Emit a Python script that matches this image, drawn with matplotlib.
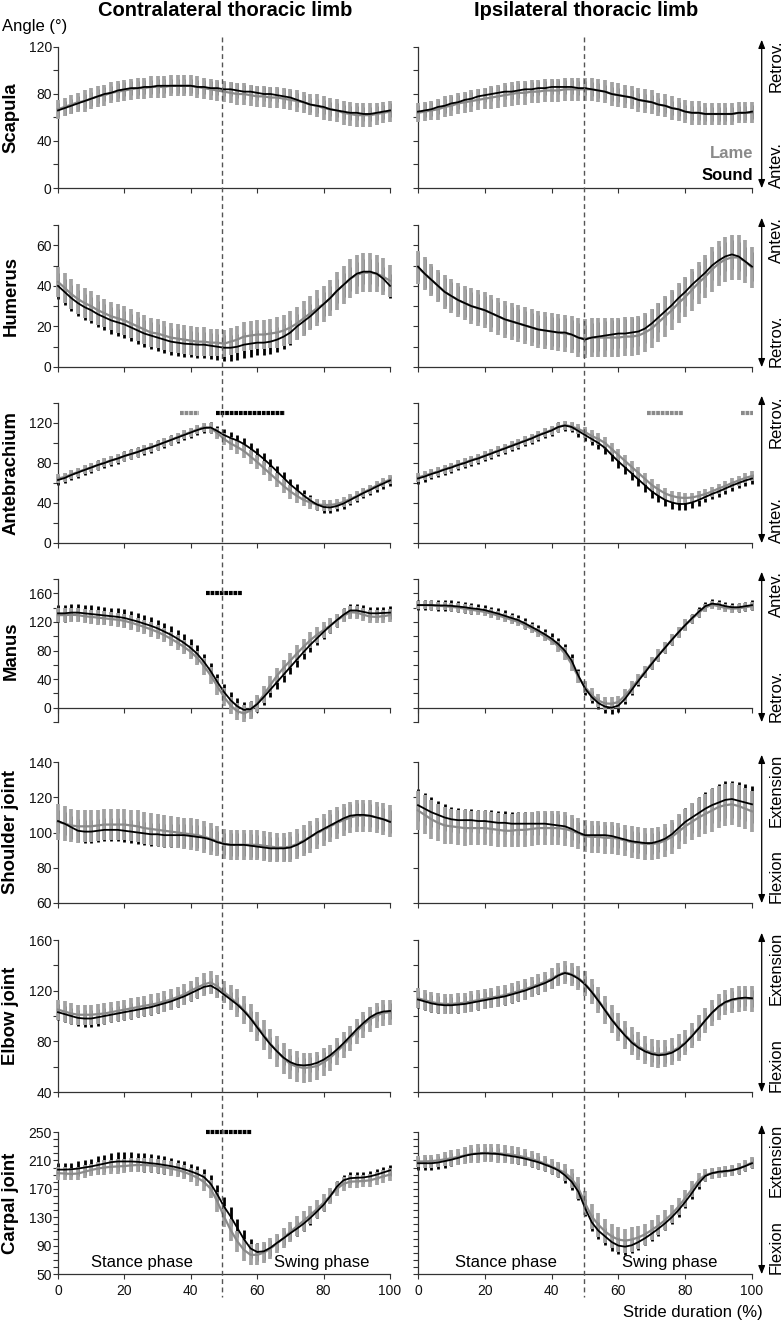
import numpy as np
import matplotlib
matplotlib.use("Agg")
import matplotlib.pyplot as plt
from matplotlib.lines import Line2D
from matplotlib.patches import FancyArrowPatch

plt.rcParams['font.family'] = ['Liberation Sans', 'DejaVu Sans']

# stride duration (%), read every 2 %
stride = list(range(0, 101, 2))

# ---- Scapula ----
sc_L_b = [66,68,70,72,74,76,78,80,81,83,84,85,85,86,86,87,87,87,87,87,87,86,86,85,85,84,84,83,82,82,81,80,80,79,78,77,75,73,71,70,69,67,66,65,64,64,63,63,64,65,66]
sc_L_g = [67,69,71,73,74,76,78,79,81,82,83,84,85,85,86,86,86,87,87,87,87,86,85,84,83,82,81,80,80,79,78,78,77,77,76,75,74,73,71,70,68,67,66,64,63,62,62,62,63,64,65]
sc_L_bsd = [6,6,6,6,6,6,6,6,6,6,6,6,6,6,6,6,6,6,6,6,6,6,6,6,6,6,6,6,6,6,6,6,6,6,6,6,6,6,6,6,6,6,6,6,6,6,6,6,6,6,6]
sc_L_gsd = [8,8,8,8,9,9,9,9,9,9,9,9,9,9,9,9,9,9,9,9,9,9,9,9,9,9,9,9,9,9,9,9,9,9,9,9,9,9,9,10,10,10,10,10,10,10,10,10,9,9,9]
sc_R_b = [65,66,67,69,70,72,73,75,76,78,79,80,81,82,82,83,84,84,85,85,86,86,86,86,85,85,84,83,82,80,79,78,77,75,74,73,71,70,68,67,65,64,64,63,63,63,63,63,64,64,65]
sc_R_g = [64,65,66,67,69,70,72,73,74,75,76,77,78,79,80,81,81,82,82,83,83,83,84,84,84,84,84,83,82,80,79,78,77,75,74,73,71,70,68,67,65,64,64,63,63,63,63,63,64,64,64]
sc_R_bsd = [6,6,6,6,6,6,6,6,6,6,6,6,6,6,6,6,6,6,6,6,6,6,6,6,6,6,6,6,6,6,6,6,6,6,6,6,6,6,6,6,6,6,6,6,6,6,6,6,6,6,6]
sc_R_gsd = [8,8,8,9,9,9,9,9,9,9,9,10,10,10,10,10,10,10,10,10,10,10,10,10,10,10,10,10,10,10,10,10,10,10,10,10,10,10,10,10,10,10,10,9,9,9,9,9,9,9,9]

# ---- Humerus ----
hu_L_b = [40,37,34,31.5,29.5,28,26,24.5,23,22,21,19.5,18,16.5,15.5,14.5,13.5,12.5,12,11.5,11.3,11,11,10.5,10,9.5,9.5,10,11,11.5,12,12,12.5,13.5,15,17,20,22.5,25,28,31,34,37.5,40.5,43.5,46,47,47,46,43.5,40]
hu_L_g = [42,39,36,33.5,31.5,30,28,26.5,25,24,23,21.5,20,18.5,17,16.5,15.5,14.5,14,13.5,13,12.5,12.5,12,12,11.5,12.5,13.5,15,15.5,16,16,16.5,17,18,19.5,21.5,24,26.5,29,31,34,37.5,40.5,43.5,45.5,46.5,46.5,46,44.5,42.5]
hu_L_bsd = [6.5,6.5,6.5,6.5,6.5,6.5,6.5,6.5,6.5,6.5,6.5,6.5,6.5,6.5,6.5,6.5,6.5,6.5,6.5,6.5,6.5,6.5,6.5,6.5,6.5,6.5,6.5,6.5,6.5,6.5,6,6,6,6,6,6,6,6,6,6,6,6,6,6,6,6,6,6,6,6,6]
hu_L_gsd = [7.5,7.5,7.5,7.5,7.5,7.5,7.5,7,7,7,7,7,7,7,7,7,7,7,7,7,7,7,7,6.5,6.5,6.5,6.5,6.5,7,7,7,7,7,7.5,7.5,8,8,8.5,8.5,9,9,9,9.5,9.5,9.5,9.5,9.5,9.5,9,9,8]
hu_R_b = [49.5,46,43,40,37,35,33,31.5,30,29,28,26.5,25,23.5,22.5,21.5,20.5,19.5,18.5,18,17.5,17,17,16,14.5,13.5,14.5,15,15.5,16,16.5,16.5,17,17.5,19,21.5,24.5,27.5,30.5,34,37,40.5,43.5,46.5,50,52.5,54.5,55.5,54.5,52,49.5]
hu_R_g = [49,46,43,40,37,35,33,31.5,30,29,28,26.5,25,23.5,22.5,21.5,20.5,19.5,18.5,18,17.5,17,16.5,16,14.5,14,14.5,14.5,14.5,14.5,14.5,15,15,15.5,17,19,22,25,28,31.5,34.5,38,41.5,44.5,48,51,53,54,54,52,49]
hu_R_bsd = [7,7,7,7,7,7,7,7,7,7,7,7,7,7,7,7,7,7,7,7,7,7,7,7,7,7,7,7,7,7,7,7,7,7,7,7,7,7,7,7,7,7,7,7,7,7,7,7,7,7,7]
hu_R_gsd = [8,8,8,8,8.5,8.5,8.5,8.5,9,9,9,9,9,9,9,9,9,9,9,9,9,9,9,9,9.5,9.5,9.5,9.5,9.5,9.5,9.5,9.5,9.5,9.5,9.5,9.5,9.5,10,10,10,10,10.5,10.5,10.5,11,11,11,11,11,10.5,10]

# ---- Antebrachium ----
ab_L_b = [63,65,68,70.5,73,75.5,78,80,82.5,84.5,87,89,91,93.5,95.5,98,100.5,103,105.5,108,110.5,113,115,115.5,112,108,105,102.5,99,94.5,89.5,84,78,71.5,65,58.5,53,47.5,42.5,38.5,36,35.5,37,39.5,43,46.5,50,53,56.5,59.5,62.5]
ab_L_g = [64.5,66,68.5,71,73.5,75.5,78,80.5,82.5,84.5,87,89,91,93.5,96,98,100.5,103,106,108.5,111,113.5,116,115,110,104,99.5,96,92,86.5,81,75,69,63,57,51.5,47,43,40.5,38.5,38,38,39,41,44,47,50.5,54,57.5,60.5,63.5]
ab_L_bsd = [5,5,5,5,5,5,5,5,5,5,5,5,5,5,5,5,5,5,5,5,5,5,5,5.5,5.5,6,6,6,6,6,6,6,6,6,6,6,6,5.5,5.5,5.5,5.5,5,5,5,5,5,5,5,5,5,5]
ab_L_gsd = [4.5,4.5,4.5,4.5,4.5,4.5,4.5,4.5,4.5,4.5,4.5,4.5,4.5,4.5,4.5,4.5,4.5,4.5,4.5,4.5,4.5,4.5,4.5,5,5.5,6,6.5,7,7,7,7,7,7,7,7,7,6.5,6,6,5.5,5.5,5.5,5,5,5,5,4.5,4.5,4.5,4.5,4.5]
ab_R_b = [64.5,66.5,69,71,73.5,75.5,78,80,82.5,84.5,87,89.5,92,94.5,97,99.5,102,104.5,107.5,110,112.5,116,117.5,116,112,108,104,100,95,88,81.5,75.5,69.5,63.5,57.5,51.5,47,43,40.5,39,39,40.5,43,46,49,51.5,54.5,57.5,60,62.5,64.5]
ab_R_g = [65.5,67.5,69.5,71.5,74,76,78.5,80.5,83,85,87.5,90,92.5,95,97.5,100,102.5,105,108,110.5,113,116,118,116.5,114,111,107,104,100,94,88,82,76,70,64,58,53.5,49.5,47,45.5,45,45.5,47,49,51.5,54.5,57,60,62.5,65,67]
ab_R_bsd = [5,5,5,5,5,5,5,5,5,5,5,5,5,5,5,5,5,5,5,5,5,5,5,5,5.5,6,6,6,6,6,6,6,6,6,6,6,6,6,6,6,5.5,5.5,5.5,5,5,5,5,5,5,5,5]
ab_R_gsd = [4.5,4.5,4.5,4.5,4.5,4.5,4.5,4.5,4.5,4.5,4.5,4.5,4.5,4.5,4.5,4.5,4.5,4.5,4.5,4.5,4.5,4.5,4.5,4.5,5,5.5,6,6,6,6,6,6,6,6,6,6,6,6,5.5,5.5,5,5,5,5,5,5,5,5,5,5,5]

# ---- Manus ----
mn_L_b = [132,132,133,133,132,131,130,129,128,127,125.5,123,120.5,117.5,114.5,111,106.5,102,96.5,90.5,83.5,75,64,51,36,22,10.5,2,-3,-2,5,15,25.5,36,46.5,57,67.5,78,88,97,106,114.5,122.5,130,136,136,134,132,132,132.5,133]
mn_L_g = [129.5,129.5,130,129.5,128,127,126,125,124,123,121.5,119,116,113,109.5,106,101.5,96.5,91,85,78,69.5,58,45,30,15,3,-5,-8,-4,6,18,32,45,56,66,76,85.5,94.5,102,108.5,115,122,128.5,133.5,133,130,127.5,127,128,129.5]
mn_L_bsd = [12,12,12,12,12,12,12,12,12,12,12,12,12,12,12,12,12,12,12,12,12,12,11,11,11,11,11,11,11,11,11,11,11,10,10,10,10,10,10,10,10,10,9,9,9,9,9,9,9,9,9]
mn_L_gsd = [10,10,10,10,10,10,10,10,10,10,10,10,10,10,10,10,10,10,10,10,10,10,12,12,12,12,12,12,12,12,12,12,12,11,11,11,11,11,11,11,11,11,9,9,9,9,9,9,9,9,9]
mn_R_b = [143.5,143.5,143.5,143,143,142.5,141.5,140.5,139,138,136.5,134,131.5,128.5,125.5,122.5,118,113,108,102.5,96.5,89,79.5,66,45,27,15,6.5,1.5,0,3,12.5,25,37.5,49.5,61.5,73,84,95,105.5,115.5,125,134,142,145.5,144.5,142,140.5,140.5,142,143.5]
mn_R_g = [143.5,143.5,143,142.5,142,141,140,138.5,137,135.5,134,131.5,129,126,123,120,115.5,110.5,105.5,99.5,93.5,86,75.5,61,43,29,18,10,6,5.5,8,17,28,39.5,51,62.5,73.5,84.5,95,105.5,115.5,124,132.5,140,144,142,139.5,138.5,139,140.5,142]
mn_R_bsd = [7.5,7.5,7.5,7.5,7.5,7.5,7.5,7.5,7.5,7.5,7.5,7.5,7.5,7.5,7.5,7.5,7.5,7.5,7.5,7.5,7.5,8,9,9,9,9,9,9,9,9,9,8,7.5,7,7,7,7,7,7,7,7,6.5,6.5,6.5,6.5,6.5,6.5,6.5,6.5,6.5,6.5]
mn_R_gsd = [6,6,6,6,6,6,6,6,6,6,6,6,6,6,6,6,6,6,6,6,6,7.5,9,9,9,9,9,9,9,9,9,9,9,8,8,8,8,8,8,8,8,5.5,5.5,5.5,5.5,5.5,5.5,5.5,5.5,5.5,5.5]

# ---- Shoulder joint ----
sh_L_b = [106.5,105,103,101,100.5,100.5,101,101.5,101.5,101.5,101,100.5,100,99.5,99,99,98.5,98.5,98.5,98.5,98,97.5,97,96,94.5,93.5,93,93,93,92.5,92,91.5,91,91,91,91.5,93,95,97.5,100,102,104,106,108,109.5,110,110,109.5,108.5,107.5,106]
sh_L_g = [106,105,104,103.5,103.5,103.5,104,104.5,104.5,104.5,104.5,104,103.5,102.5,102,101.5,101,100.5,100,99.5,99,98.5,97.5,96.5,95,93.5,93,93,93,93,93,92.5,92,91.5,91.5,92,93.5,95.5,97.5,99.5,101.5,103.5,105.5,107,108.5,109.5,109.5,109.5,108.5,107.5,106.5]
sh_L_bsd = [6.5,6.5,6.5,6.5,6.5,6.5,6.5,6.5,6.5,6.5,6.5,6.5,6.5,6.5,6.5,6.5,6.5,6.5,6.5,6.5,6.5,6.5,6.5,6.5,6.5,6.5,6.5,6.5,6.5,6.5,6.5,6.5,6.5,6.5,6.5,6.5,6.5,6.5,6.5,6.5,6.5,6.5,6.5,6.5,6.5,6.5,6.5,6.5,6.5,6.5,6.5]
sh_L_gsd = [10,10,9.5,9.5,9,9,9,9,9,9,9,9,9,9,9,9,9,9,9,9,9,9,9,9,8.5,8.5,8.5,8.5,8.5,8.5,8.5,8.5,8.5,8.5,8.5,8.5,8.5,9,9,9,9,9,9,9,9,9,9,9,9,9,9]
sh_R_b = [115.5,113.5,111.5,110,108.5,107.5,107,107,107,106.5,106.5,106,105.5,105.5,105,105,105,105,105,105,104.5,104,103.5,102,100,98.5,98.5,98.5,98.5,98,97,96,95,94.5,94,94,95,96.5,99,102.5,106,108.5,111,113.5,115.5,117,118.5,119,118,117,116]
sh_R_g = [112.5,110,107.5,105.5,104,103.5,103,102.5,102.5,102.5,102.5,102,101.5,101,101,101.5,101.5,102,102.5,102.5,102.5,102.5,102,101,99.5,98,97.5,97.5,97,97,96.5,95.5,94.5,94,93.5,93.5,94,95.5,97.5,100.5,103.5,106,108.5,110.5,112.5,114.5,115.5,116,115,113.5,112]
sh_R_bsd = [9,9,8.5,8,7.5,7,7,6.5,6.5,6.5,6.5,6.5,6.5,6.5,6.5,6.5,6.5,6.5,6.5,6.5,6.5,6.5,6.5,6,6,6,6,6,6,6,6,6,6,6,6,6,6,6.5,7,7.5,8,8.5,9,9.5,10,10.5,10.5,10.5,10.5,10.5,10.5]
sh_R_gsd = [11,11,11,10.5,10.5,10,10,10,9.5,9.5,9.5,9.5,9.5,9.5,9.5,9.5,9.5,9.5,9.5,9.5,9.5,9.5,9.5,9,9,9,9,9,9,9,9,9,9,9,9,9,9,9.5,9.5,10,10,10.5,11,11.5,12,12,12,12,12,11.5,11.5]

# ---- Elbow joint ----
elb_L_b = [103,101.5,100,98.5,98,98,99,100,101,102,103,104,105,106,107,108.5,110,111.5,113.5,115.5,118,120.5,123,124,121,117,113,109,104,98,91,84,77.5,72,67,63.5,61.5,61,61.5,63,65.5,69,73.5,78.5,84,89.5,94.5,99,102,103.5,104]
elb_L_g = [105,103.5,102,101,101,101,101.5,102,103,104,105,106,107,108,109,110,111.5,113,115,117,120,122.5,125,126.5,123.5,119,114.5,110,105,98.5,92,85,78,72,66.5,62,60,59,59.5,60.5,63.5,67,72,77,82.5,88,93,97.5,100.5,102.5,103]
elb_L_bsd = [6.5,6.5,6.5,6.5,6.5,6.5,6.5,6.5,6,6,6,6,6,6,6,6,6,6,6,6,6,6,6,6,6,6,6,6,6,6,6,6,6,6,6,6,6,6,6,6,6,6,6,6,6,6,6,6,6,6,6]
elb_L_gsd = [8,8,8,8,8,8,8,8,8,8,8,8,8,8,8,8,8,8,8,8,8,8.5,9,9,9,9,10,11,11,11,11.5,12,12,12,12,12,12,12,11.5,11,11,10.5,10.5,10,10,10,10,10,10,10,10]
elb_R_b = [113,111.5,110,109,108.5,108.5,109,109.5,110.5,111.5,112.5,113.5,114.5,115.5,117,118.5,120,122,124,126,128.5,132,134,132.5,129.5,125,119,112,104.5,97,90.5,84.5,79,75,72,70,69,69.5,71,74,78.5,84,90,96.5,102.5,107.5,111,113,114,114.5,114]
elb_R_g = [114,112.5,111,110,109.5,109.5,110,110.5,111.5,112.5,113.5,114.5,115.5,116.5,118,119.5,121,123,125,127,129.5,132.5,134.5,133,130,125.5,119.5,112.5,105,97.5,91,85,80,76,73,71,70,70.5,72,75,79,84.5,90.5,96.5,102.5,107,110.5,112.5,113.5,114,113.5]
elb_R_bsd = [6.5,6.5,6.5,6.5,6.5,6.5,6.5,6.5,6.5,6.5,6.5,6.5,6.5,6.5,6.5,6.5,6.5,6.5,6.5,6.5,6.5,6.5,6.5,6.5,6.5,6.5,6.5,6.5,6.5,6.5,6.5,6.5,6.5,6.5,6.5,6.5,6.5,6.5,6.5,6.5,6.5,6.5,6.5,6.5,6.5,6.5,6.5,6.5,6.5,6.5,6.5]
elb_R_gsd = [8,8,8,8,8,8,8,8,8,8,8,8,8,8,8,8,8,8,8,8,8.5,9,9,9,9.5,10,10,10.5,11,11,11,11,11,11,11,11,11,10.5,10.5,10.5,10,10,10,10,10,10,10,10,10,10,10]

# ---- Carpal joint ----
cp_L_b = [197,197,197.5,198.5,200,201.5,203.5,205.5,207.5,208.5,208.5,208.5,208,207,206,205,203.5,202,200,197.5,194.5,191,186.5,177,162,145,131,115,99,86,81,82,87,94,100.5,107.5,114,121,129,138,147.5,159.5,173,182,185,185.5,186,187.5,190,193,196]
cp_L_g = [192,191.5,191,191.5,194,196.5,198.5,200,201,201.5,202,203,203.5,203.5,203,202,200.5,198.5,196.5,193.5,190,185.5,179.5,170,152,131,112,96,84,77,77,80,86,93,101,109.5,117.5,125,133,141.5,150.5,160,170,177,180,180.5,181,182,184.5,187.5,190]
cp_L_bsd = [9,9,9.5,10,10.5,11,12,12.5,13,13,13,13,13,13,13,13,12,11.5,11,11,11,11.5,12,12.5,13,13,13,13,13,13,13,12,11,10.5,10,10,10,10,10,9.5,9,8.5,8,8,8,8,8,8,8,8,8]
cp_L_gsd = [9,9,9,9,9,9,9.5,10,10,10,10,10,10,10,10,10,10,10,10,10,10,11,12,13,14,15,15,15,15,15,15,15,14.5,14,14,14,14,14,13,12.5,12,11,10,9.5,9,9,9,9,9,9,9]
cp_R_b = [206,206,206,207,209,211,213.5,216.5,218.5,219.5,220,219.5,219,217.5,216,214.5,212.5,210,207.5,204,200.5,196,189,180,166,143,123,111,103,95,90,88.5,90.5,95,100.5,107,114,121.5,130,140,151.5,164,177.5,188,192,194,195,196,198.5,202,206]
cp_R_g = [208.5,208.5,209,210,211.5,213,215,217,219,220,220.5,220.5,220,219,218,216.5,214.5,212,209,205.5,201.5,197,192.5,184.5,171,150,131,119.5,110,103,98.5,97,98.5,101.5,106,112,118.5,126,134.5,145,157,169.5,182,189.5,192,193,194,196,198.5,202.5,207]
cp_R_bsd = [9,9,9,9,9,9,9,9,9,9,9,9,9,9,9,9,9,9,9,9,9,10,11,12,12,12,12,12,12,12,12,11.5,11,10.5,10,10,10,10,10,9.5,9,8.5,8,7.5,7,7,7,7,7,7,7]
cp_R_gsd = [8,8.5,9,9.5,10,11,11.5,12,12.5,13,13,13,13,12.5,12.5,12,12,11.5,11,10.5,10,11,12,13.5,15,16.5,17,17,17,17,17,17,17,16,15,14,14,14,13,12.5,12,11,10,9,8,8,8,8,8,8,8]

row_names = ['Scapula', 'Humerus', 'Antebrachium', 'Manus', 'Shoulder joint', 'Elbow joint', 'Carpal joint']
side_top = ['Retrov.', 'Antev.', 'Retrov.', 'Antev.', 'Extension', 'Extension', 'Extension']
side_bottom = ['Antev.', 'Retrov.', 'Antev.', 'Retrov.', 'Flexion', 'Flexion', 'Flexion']
col_titles = ['Contralateral thoracic limb', 'Ipsilateral thoracic limb']

sound_mean = [[sc_L_b, sc_R_b], [hu_L_b, hu_R_b], [ab_L_b, ab_R_b], [mn_L_b, mn_R_b],
              [sh_L_b, sh_R_b], [elb_L_b, elb_R_b], [cp_L_b, cp_R_b]]
sound_sd = [[sc_L_bsd, sc_R_bsd], [hu_L_bsd, hu_R_bsd], [ab_L_bsd, ab_R_bsd], [mn_L_bsd, mn_R_bsd],
            [sh_L_bsd, sh_R_bsd], [elb_L_bsd, elb_R_bsd], [cp_L_bsd, cp_R_bsd]]
lame_mean = [[sc_L_g, sc_R_g], [hu_L_g, hu_R_g], [ab_L_g, ab_R_g], [mn_L_g, mn_R_g],
             [sh_L_g, sh_R_g], [elb_L_g, elb_R_g], [cp_L_g, cp_R_g]]
lame_sd = [[sc_L_gsd, sc_R_gsd], [hu_L_gsd, hu_R_gsd], [ab_L_gsd, ab_R_gsd], [mn_L_gsd, mn_R_gsd],
           [sh_L_gsd, sh_R_gsd], [elb_L_gsd, elb_R_gsd], [cp_L_gsd, cp_R_gsd]]

# end of stance (% of stride) per column
stance_end = [49.3, 49.8]

# significant differences: (row, col, group, first %, last %, level)
sig_bars = [(2, 0, 'lame', 37, 42, 130), (2, 0, 'sound', 48, 68, 130),
            (2, 1, 'lame', 69, 79, 130), (2, 1, 'lame', 97, 100, 130),
            (3, 0, 'sound', 45, 55, 160), (6, 0, 'sound', 45, 58, 250)]

for name, grid in [('sound_mean', sound_mean), ('sound_sd', sound_sd),
                   ('lame_mean', lame_mean), ('lame_sd', lame_sd)]:
    for r, pair in enumerate(grid):
        for c, arr in enumerate(pair):
            if len(arr) != len(stride):
                raise ValueError(f"{name} row {r} col {c}: {len(arr)}")

# ---- layout (pixels) ----
W, H = 782, 1321
col_px = [(58, 390), (418, 752)]
row_px = [(47, 188), (225, 367), (403, 543), (579, 722), (762, 903), (940, 1092), (1132, 1274)]
ylims = [(0, 120), (0, 70), (0, 140), (-20, 180), (60, 140), (40, 160), (50, 250)]
yt_major = [[0, 40, 80, 120], [0, 20, 40, 60], [0, 40, 80, 120], [0, 40, 80, 120, 160],
            [60, 80, 100, 120, 140], [40, 80, 120, 160], [50, 90, 130, 170, 210, 250]]
yt_minor = [[20, 60, 100], [10, 30, 50, 70], [20, 60, 100, 140], [-20, 20, 60, 100, 140, 180],
            [], [60, 100, 140],
            [60, 70, 80, 100, 110, 120, 140, 150, 160, 180, 190, 200, 220, 230, 240]]

BAR_GRAY = '#a2a2a2'
LINE_GRAY = '#8a8a8a'
AX_COL = '#333333'

fig = plt.figure(figsize=(W / 100, H / 100), dpi=100)
axes = [[None, None] for _ in range(7)]

for r in range(7):
    top, bot = row_px[r]
    for c in range(2):
        x0, x1 = col_px[c]
        ax = fig.add_axes([x0 / W, 1 - bot / H, (x1 - x0) / W, (bot - top) / H])
        axes[r][c] = ax
        x = np.array(stride)
        sm, ss = np.array(sound_mean[r][c]), np.array(sound_sd[r][c])
        lm, lsd = np.array(lame_mean[r][c]), np.array(lame_sd[r][c])
        ax.vlines(x, sm - ss, sm + ss, colors='black', lw=2.0, zorder=2, clip_on=False)
        ax.vlines(x, lm - lsd, lm + lsd, colors=BAR_GRAY, lw=2.7, zorder=3, clip_on=False)
        ax.plot(x, lm, color=LINE_GRAY, lw=1.6, zorder=4, clip_on=False)
        ax.plot(x, sm, color='black', lw=1.3, zorder=5, clip_on=False)

        ax.set_xlim(0, 100)
        ax.set_ylim(*ylims[r])
        ax.set_xticks([0, 20, 40, 60, 80, 100])
        ax.set_yticks(yt_major[r])
        ax.set_yticks(yt_minor[r], minor=True)
        for s in ('top', 'right'):
            ax.spines[s].set_visible(False)
        for s in ('left', 'bottom'):
            ax.spines[s].set_color(AX_COL)
            ax.spines[s].set_linewidth(0.9)
        if r == 3:
            ax.spines['bottom'].set_position(('data', 0))
        ax.tick_params(axis='both', which='both', direction='out', length=3.5, width=0.8,
                       color=AX_COL, labelsize=10, labelcolor='#111111')
        ax.tick_params(axis='y', pad=1)
        ax.tick_params(axis='x', pad=4, labelbottom=(r == 6))
        ax.tick_params(axis='y', labelleft=(c == 0))
        ax.patch.set_visible(False)

    # row label on the left
    fig.text(11 / W, 1 - (top + bot) / 2 / H, row_names[r], rotation=90, ha='center',
             va='center', fontsize=13.3, fontweight='bold')
    # direction arrow + labels on the right
    arrow = FancyArrowPatch((761.7 / W, 1 - (bot + 3) / H), (761.7 / W, 1 - (top - 10) / H),
                            transform=fig.transFigure, arrowstyle='<|-|>,head_length=5,head_width=2',
                            mutation_scale=1, lw=0.9, color='black')
    fig.add_artist(arrow)
    fig.text(776 / W, 1 - (top - 8) / H, side_top[r], rotation=90, ha='center', va='top', fontsize=12)
    fig.text(776 / W, 1 - bot / H, side_bottom[r], rotation=90, ha='center', va='bottom', fontsize=12)

# significance markers: a row of small squares, one per % of stride
for r, c, grp, a, b, lvl in sig_bars:
    col = 'black' if grp == 'sound' else LINE_GRAY
    axes[r][c].plot([a - 0.4, b + 0.4], [lvl, lvl], color=col, lw=3.0, ls=(0, (0.9, 0.2)),
                    dash_capstyle='butt', solid_capstyle='butt', clip_on=False, zorder=6)

# end-of-stance dashed lines across the whole column
inv = fig.transFigure.inverted()
for c in range(2):
    fx = inv.transform(axes[0][c].transData.transform((stance_end[c], 0)))[0]
    fig.add_artist(Line2D([fx, fx], [1 - 37 / H, 1 - 1297 / H], transform=fig.transFigure,
                          color='#555555', lw=1.0, ls=(0, (3.5, 2.5)), zorder=10))

# titles and labels
fig.text(225 / W, 1 - 10 / H, col_titles[0], ha='center', va='center', fontsize=14.5, fontweight='bold')
fig.text(586 / W, 1 - 10 / H, col_titles[1], ha='center', va='center', fontsize=14.5, fontweight='bold')
fig.text(2 / W, 1 - 26 / H, 'Angle (°)', ha='left', va='center', fontsize=12)
fig.text(763 / W, 1 - 1312 / H, 'Stride duration (%)', ha='right', va='center', fontsize=12)

fig.text(753 / W, 1 - 154 / H, 'Lame', ha='right', va='center', fontsize=12, fontweight='bold', color=LINE_GRAY)
fig.text(753 / W, 1 - 175 / H, 'Sound', ha='right', va='center', fontsize=12, fontweight='bold', color='black')

# phase names in the bottom row
axes[6][0].text(25.3, 66, 'Stance phase', ha='center', va='center', fontsize=12)
axes[6][0].text(79.3, 66, 'Swing phase', ha='center', va='center', fontsize=12)
axes[6][1].text(26.2, 66, 'Stance phase', ha='center', va='center', fontsize=12)
axes[6][1].text(75.5, 66, 'Swing phase', ha='center', va='center', fontsize=12)

fig.savefig('out.png', dpi=100)
